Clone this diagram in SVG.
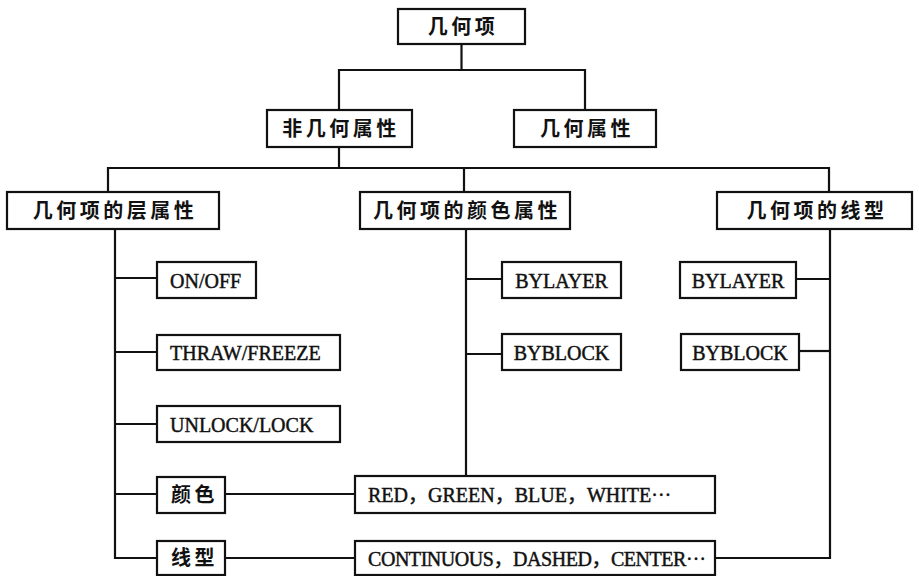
<svg xmlns="http://www.w3.org/2000/svg" width="919" height="576" viewBox="0 0 919 576">
<style>
rect{fill:#fff;stroke:#111;stroke-width:2.2}
.c line,.c polyline{stroke:#111;stroke-width:2.2;fill:none}
.zh{font-family:"Noto Sans CJK SC",sans-serif;font-size:20px;font-weight:bold;letter-spacing:3.5px;fill:#111}
.en{font-family:"Liberation Serif","Noto Sans CJK SC",serif;font-size:20px;fill:#111;stroke:#111;stroke-width:0.45}
.m{text-anchor:middle}
</style>
<rect x="0" y="0" width="919" height="576" style="fill:#fff;stroke:none"/>
<g class="c" id="connectors">
<line x1="461.5" y1="44" x2="461.5" y2="70"/>
<polyline points="339,110 339,70 585,70 585,110"/>
<line x1="339" y1="147" x2="339" y2="168"/>
<polyline points="108,192 108,168 829,168 829,192"/>
<line x1="464" y1="168" x2="464" y2="192"/>
<polyline points="115,229 115,558 157,558"/>
<line x1="115" y1="278" x2="157" y2="278"/>
<line x1="115" y1="352" x2="157" y2="352"/>
<line x1="115" y1="424" x2="157" y2="424"/>
<line x1="115" y1="494" x2="157" y2="494"/>
<line x1="225" y1="494" x2="355" y2="494"/>
<line x1="225" y1="558" x2="355" y2="558"/>
<line x1="466" y1="229" x2="466" y2="476"/>
<line x1="466" y1="279" x2="502" y2="279"/>
<line x1="466" y1="354" x2="502" y2="354"/>
<polyline points="830,229 830,558 715,558"/>
<line x1="796" y1="279" x2="830" y2="279"/>
<line x1="799" y1="351" x2="830" y2="351"/>
</g>
<g id="n-root"><rect x="398" y="9" width="127" height="35"/><text class="zh m" x="463" y="34">几何项</text></g>
<g id="n-nongeo"><rect x="267" y="110" width="145" height="37"/><text class="zh m" x="341" y="136">非几何属性</text></g>
<g id="n-geo"><rect x="514" y="110" width="142" height="37"/><text class="zh m" x="587" y="136">几何属性</text></g>
<g id="n-layer"><rect x="7" y="192" width="212" height="37"/><text class="zh m" x="115" y="218">几何项的层属性</text></g>
<g id="n-color"><rect x="360" y="192" width="210" height="37"/><text class="zh m" x="467" y="218">几何项的颜色属性</text></g>
<g id="n-ltype"><rect x="717" y="192" width="195" height="37"/><text class="zh m" x="817" y="218">几何项的线型</text></g>
<g id="n-onoff"><rect x="157" y="262" width="99" height="36"/><text class="en" x="170" y="288">ON/OFF</text></g>
<g id="n-thraw"><rect x="157" y="335" width="183" height="35"/><text class="en" x="170" y="360">THRAW/FREEZE</text></g>
<g id="n-unlock"><rect x="157" y="406" width="183" height="36"/><text class="en" x="170" y="432">UNLOCK/LOCK</text></g>
<g id="n-yanse"><rect x="157" y="477" width="68" height="36"/><text class="zh" x="171" y="502">颜色</text></g>
<g id="n-xianxing"><rect x="157" y="541" width="68" height="34"/><text class="zh" x="171" y="565">线型</text></g>
<g id="n-red"><rect x="355" y="476" width="360" height="37"/><text class="en" x="368" y="502">RED，GREEN，BLUE，WHITE<tspan dy="-6">…</tspan></text></g>
<g id="n-cont"><rect x="355" y="541" width="360" height="34"/><text class="en" x="368" y="566" textLength="338">CONTINUOUS，DASHED，CENTER<tspan dy="-6">…</tspan></text></g>
<g id="n-bylayer-c"><rect x="502" y="262" width="119" height="36"/><text class="en m" x="561.5" y="288">BYLAYER</text></g>
<g id="n-byblock-c"><rect x="502" y="334" width="119" height="36"/><text class="en m" x="561.5" y="360">BYBLOCK</text></g>
<g id="n-bylayer-l"><rect x="680" y="262" width="116" height="36"/><text class="en m" x="738" y="288">BYLAYER</text></g>
<g id="n-byblock-l"><rect x="681" y="334" width="118" height="36"/><text class="en m" x="740" y="360">BYBLOCK</text></g>
</svg>
